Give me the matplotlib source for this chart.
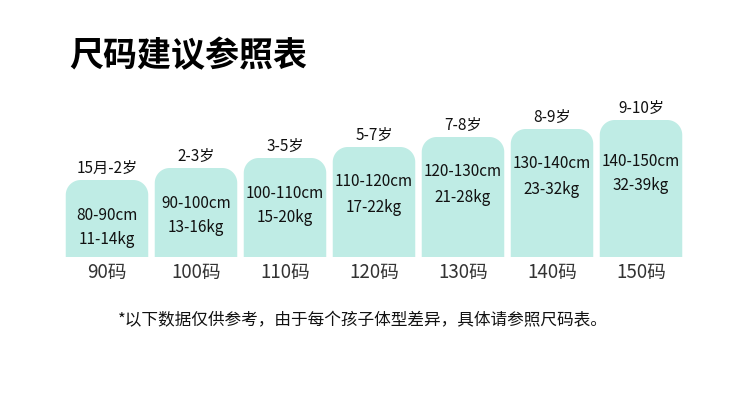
import numpy as np
import matplotlib
matplotlib.use("Agg")
import matplotlib.pyplot as plt
from matplotlib.patches import Polygon

plt.rcParams['font.family'] = ['Noto Sans CJK SC', 'DejaVu Sans']

# data
sizes = ['90码', '100码', '110码', '120码', '130码', '140码', '150码']
ages = ['15月-2岁', '2-3岁', '3-5岁', '5-7岁', '7-8岁', '8-9岁', '9-10岁']
heights_cm = ['80-90cm', '90-100cm', '100-110cm', '110-120cm',
              '120-130cm', '130-140cm', '140-150cm']
weights_kg = ['11-14kg', '13-16kg', '15-20kg', '17-22kg',
              '21-28kg', '23-32kg', '32-39kg']
bar_heights = [77, 89, 99, 110, 120, 128, 137]

title = '尺码建议参照表'
note = '*以下数据仅供参考，由于每个孩子体型差异，具体请参照尺码表。'

BAR_COLOR = '#bfece5'
W, H = 750, 397
step = 89.0          # px between bar centres
x0 = 107.0           # px centre of first bar
base = 257.0         # px from top of the baseline

fig = plt.figure(figsize=(W / 100, H / 100), dpi=100)
fig.patch.set_facecolor('white')
ax = fig.add_axes([0, 0, 1, 1])
ax.set_xlim(-x0 / step, (W - x0) / step)
ax.set_ylim(-(H - base), base)
ax.axis('off')


def rounded_top_bar(xc, h, width=0.927, r_px=15):
    rx = r_px / step
    ry = r_px
    left, right = xc - width / 2, xc + width / 2
    t = np.linspace(0, np.pi / 2, 20)
    pts = [(left, 0)]
    # top-left corner
    pts += list(zip(left + rx - rx * np.cos(t), h - ry + ry * np.sin(t)))
    # top-right corner
    pts += list(zip(right - rx + rx * np.sin(t), h - ry + ry * np.cos(t)))
    pts += [(right, 0)]
    return Polygon(pts, closed=True, facecolor=BAR_COLOR, edgecolor='none')


for i, h in enumerate(bar_heights):
    ax.add_patch(rounded_top_bar(i, h))
    ax.text(i, h + 12, ages[i], ha='center', va='center', fontsize=11, color='#111111')
    y1 = min(h - 35, 96)
    ax.text(i, y1, heights_cm[i], ha='center', va='center', fontsize=11, color='#111111')
    ax.text(i, y1 - 25, weights_kg[i], ha='center', va='center', fontsize=11, color='#111111')
    ax.text(i, -15, sizes[i], ha='center', va='center', fontsize=13.5, color='#333333')

fig.text(69 / W, 1 - 56 / H, title, ha='left', va='center', fontsize=24.5,
         fontweight='bold', color='black')
fig.text(118 / W, 1 - 321 / H, note, ha='left', va='center', fontsize=12, color='#111111')

fig.savefig('out.png', dpi=100, facecolor='white')
